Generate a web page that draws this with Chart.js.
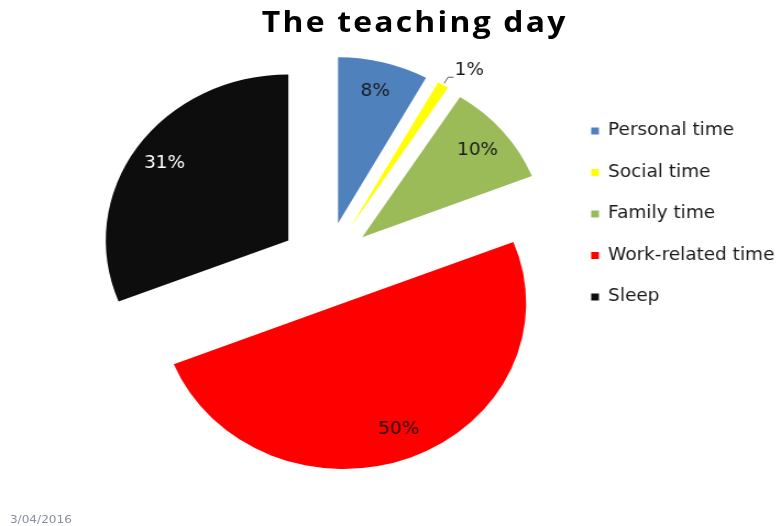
<!DOCTYPE html>
<html>
<head>
<meta charset="utf-8">
<script src="https://cdn.jsdelivr.net/npm/chart.js@4.4.0/dist/chart.umd.min.js"></script>
<style>
  html, body { margin: 0; padding: 0; background: #ffffff; overflow: hidden; }
  /* the original picture is stretched sideways, so the whole chart is too */
  #lienzo {
    position: absolute; left: 0; top: 0;
    width: 707px; height: 526px;
    transform: scaleX(1.1); transform-origin: 0 0;
  }
  #graficoCaja { position: absolute; left: 0; top: 0; width: 707px; height: 526px; }
  #titulo {
    position: absolute; left: 0; top: 6px; width: 754px;
    text-align: center; margin: 0;
    font: bold 29px/29px "Open Sans", sans-serif; letter-spacing: 2px; color: #000;
  }
  #fecha {
    position: absolute; left: 9px; top: 513px;
    font: 11px "DejaVu Sans", sans-serif; color: #8a919c;
  }
</style>
</head>
<body>
<div id="lienzo">
  <div id="graficoCaja"><canvas id="graficoDia"></canvas></div>
  <h3 id="titulo">The teaching day</h3>
  <div id="fecha">3/04/2016</div>
</div>
<script>
// Datos del gráfico
const categorias = ['Personal time', 'Social time', 'Family time', 'Work-related time', 'Sleep'];
const valores = [8, 1, 10, 50, 31];
const colores = ['#4f81bd', '#ffff00', '#9bbb59', '#ff0000', '#0d0d0d'];
const coloresEtiqueta = ['#1a1a1a', '#1a1a1a', '#1a1a1a', '#1a1a1a', '#ffffff'];

const SEPARACION = 42;   // px que se separa cada porción del centro
const FUENTE = '16.8px "DejaVu Sans"';

// Separar porciones (el offset de Chart.js también agranda el radio)
const separarPorciones = {
    id: 'separarPorciones',
    afterDatasetUpdate(chart, args) {
        args.meta.data.forEach(arc => {
            const medio = (arc.startAngle + arc.endAngle) / 2;
            arc.x += Math.cos(medio) * SEPARACION;
            arc.y += Math.sin(medio) * SEPARACION;
        });
    }
};

// Etiquetas de porcentaje dentro de cada porción
const etiquetasPorcentaje = {
    id: 'etiquetasPorcentaje',
    afterDatasetsDraw(chart) {
        const { ctx } = chart;
        const meta = chart.getDatasetMeta(0);
        const total = valores.reduce((a, b) => a + b, 0);
        ctx.save();
        ctx.font = FUENTE;
        ctx.textBaseline = 'middle';
        meta.data.forEach((arc, i) => {
            const { x, y, startAngle, endAngle, outerRadius } = arc;
            const medio = (startAngle + endAngle) / 2;
            const dx = Math.cos(medio), dy = Math.sin(medio);
            const texto = Math.round(valores[i] / total * 100) + '%';

            if (valores[i] / total < 0.03) {
                // porción pequeña: etiqueta fuera con línea guía
                const x0 = x + dx * (outerRadius + 2);
                const y0 = y + dy * (outerRadius + 2);
                const x1 = x + dx * (outerRadius + 9);
                const y1 = y + dy * (outerRadius + 9);
                ctx.strokeStyle = '#595959';
                ctx.lineWidth = 1;
                ctx.beginPath();
                ctx.moveTo(x0, y0);
                ctx.lineTo(x1, y1);
                ctx.lineTo(x1 + 5, y1);
                ctx.stroke();
                ctx.fillStyle = '#1a1a1a';
                ctx.textAlign = 'left';
                ctx.fillText(texto, x1 + 6, y1 - 7);
            } else {
                const r = outerRadius * 0.82;
                ctx.fillStyle = coloresEtiqueta[i];
                ctx.textAlign = 'center';
                ctx.fillText(texto, x + dx * r, y + dy * r);
            }
        });
        ctx.restore();
    }
};

Chart.defaults.font.family = '"DejaVu Sans", sans-serif';

new Chart(document.getElementById('graficoDia'), {
    type: 'pie',
    data: {
        labels: categorias,
        datasets: [{
            data: valores,
            backgroundColor: colores,
            borderWidth: 0,
            hoverOffset: 0,
            clip: false
        }]
    },
    options: {
        responsive: true,
        maintainAspectRatio: false,
        animation: false,
        events: [],
        radius: 166,
        layout: { padding: { left: 81, right: -7, top: 98, bottom: 96 } },
        plugins: {
            legend: {
                display: true,
                position: 'right',
                align: 'start',
                labels: {
                    color: '#1a1a1a',
                    font: { size: 16.8 },
                    boxWidth: 7,
                    boxHeight: 7,
                    padding: 24.7
                }
            },
            tooltip: { enabled: false }
        }
    },
    plugins: [separarPorciones, etiquetasPorcentaje]
});
</script>
</body>
</html>
